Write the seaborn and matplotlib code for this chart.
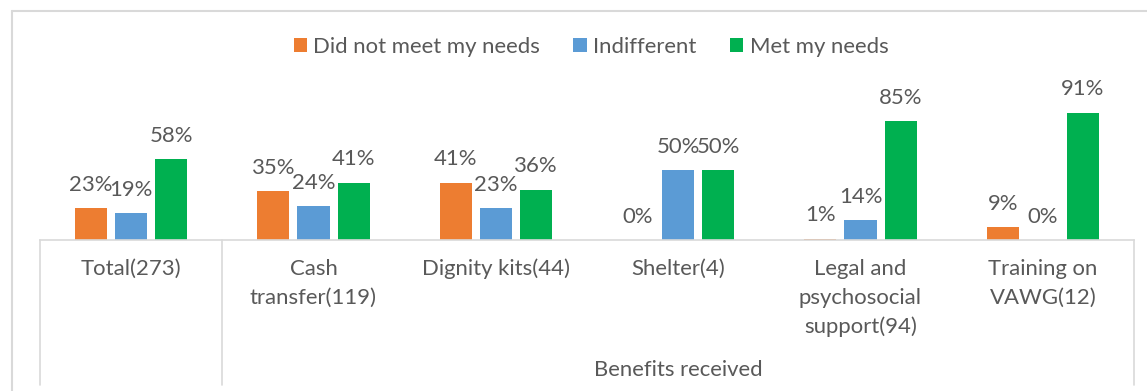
import matplotlib
matplotlib.use("Agg")
import matplotlib.pyplot as plt
import seaborn as sns
import pandas as pd
from matplotlib.lines import Line2D
from matplotlib.patches import Patch

# Survey results: share of respondents per benefit type (percent)
categories = ["Total(273)", "Cash\ntransfer(119)", "Dignity kits(44)", "Shelter(4)",
              "Legal and\npsychosocial\nsupport(94)", "Training on\nVAWG(12)"]
series = ["Did not meet my needs", "Indifferent", "Met my needs"]
not_met = [23, 35, 41, 0, 1, 9]
indifferent = [19, 24, 23, 50, 14, 0]
met = [58, 41, 36, 50, 85, 91]
group_label = "Benefits received"
colors = ["#ED7D31", "#5B9BD5", "#00B050"]

df = pd.DataFrame({
    "category": categories * 3,
    "response": [s for s in series for _ in categories],
    "value": not_met + indifferent + met,
})

sns.set_style("white")
plt.rcParams["font.family"] = ["Lato", "DejaVu Sans"]
TEXT = "#595959"
LINE = "#D9D9D9"
FS = 15.9

W, H = 1147, 391
fig = plt.figure(figsize=(W / 100, H / 100), dpi=100)
base_y = 240          # pixel row of the category axis
px_per_unit = 1.4     # pixels per percentage point
ax = fig.add_axes([40 / W, (H - base_y) / H, (1134 - 40) / W, 100 * px_per_unit / H])

sns.barplot(data=df, x="category", y="value", hue="response", order=categories,
            hue_order=series, palette=colors, width=0.66, gap=0.2, saturation=1,
            errorbar=None, linewidth=0, legend=False, ax=ax)

for container, vals in zip(ax.containers, [not_met, indifferent, met]):
    ax.bar_label(container, labels=[f"{v}%" for v in vals], padding=9.5,
                 fontsize=FS, color=TEXT)

ax.set_xlim(-0.5, len(categories) - 0.5)
ax.set_ylim(0, 100)
ax.set_yticks([])
ax.set_xlabel("")
ax.set_ylabel("")
ax.set_xticks(range(len(categories)))
ax.set_xticklabels(categories, fontsize=FS, color=TEXT, linespacing=1.55)
ax.tick_params(axis="x", length=0, pad=13.5)
for side in ["left", "right", "top"]:
    ax.spines[side].set_visible(False)
ax.spines["bottom"].set_color(LINE)
ax.spines["bottom"].set_linewidth(1.2)

# multi-level category axis: separators and outer group label
depth = 145 / px_per_unit
for x in [-0.5, 0.5, len(categories) - 0.5]:
    ax.plot([x, x], [0, -depth], color=LINE, lw=1.2, clip_on=False)
ax.text(3, -(370 - base_y) / px_per_unit, group_label, ha="center", va="center",
        fontsize=FS, color=TEXT)

# chart area border
fig.add_artist(Line2D([11.5 / W, 11.5 / W], [0, 1 - 10.5 / H],
                      transform=fig.transFigure, color=LINE, lw=1.5))
fig.add_artist(Line2D([11.5 / W, 1], [1 - 10.5 / H, 1 - 10.5 / H],
                      transform=fig.transFigure, color=LINE, lw=1.5))

handles = [Patch(facecolor=c, edgecolor="none", label=s) for s, c in zip(series, colors)]
fig.legend(handles=handles, loc="center", bbox_to_anchor=(591 / W, 1 - 47 / H), ncol=3,
           frameon=False, handlelength=0.6, handleheight=0.6, handletextpad=0.3,
           columnspacing=1.5, fontsize=FS, labelcolor=TEXT)

fig.savefig("out.png", dpi=100)
